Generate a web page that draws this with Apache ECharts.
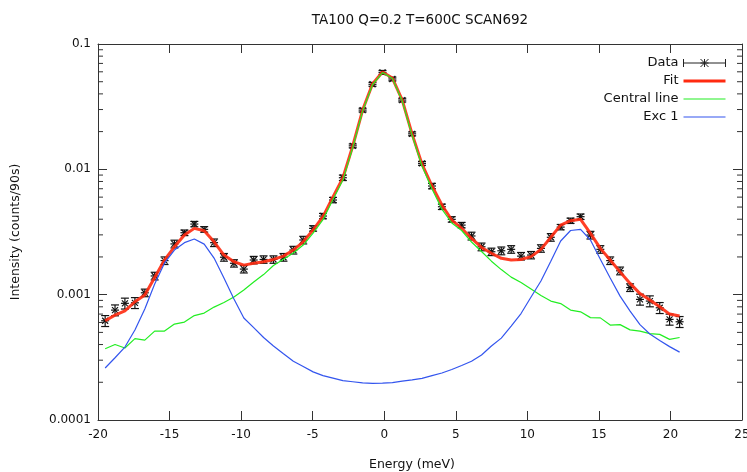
<!DOCTYPE html>
<html><head><meta charset="utf-8">
<script src="https://cdn.jsdelivr.net/npm/echarts@6/dist/echarts.min.js"></script>
<style>html,body{margin:0;padding:0;background:#fff}#c{width:747px;height:472px}</style>
</head><body><div id="c"></div>
<script>
// ---- data ----
const energy = [-19.50, -18.81, -18.12, -17.42, -16.73, -16.04, -15.35, -14.66, -13.96, -13.27,
  -12.58, -11.89, -11.20, -10.50, -9.81, -9.12, -8.43, -7.74, -7.04, -6.35,
  -5.66, -4.97, -4.28, -3.58, -2.89, -2.20, -1.51, -0.82, -0.12, 0.57,
  1.26, 1.95, 2.64, 3.34, 4.03, 4.72, 5.41, 6.10, 6.80, 7.49,
  8.18, 8.87, 9.56, 10.26, 10.95, 11.64, 12.33, 13.02, 13.72, 14.41,
  15.10, 15.79, 16.48, 17.18, 17.87, 18.56, 19.25, 19.94, 20.64];
const intensity = [6.19e-4, 7.53e-4, 8.53e-4, 8.61e-4, 1.035e-3, 1.41e-3, 1.87e-3, 2.54e-3, 3.12e-3, 3.66e-3,
  3.32e-3, 2.60e-3, 1.99e-3, 1.78e-3, 1.60e-3, 1.89e-3, 1.91e-3, 1.91e-3, 1.99e-3, 2.27e-3,
  2.73e-3, 3.38e-3, 4.24e-3, 5.69e-3, 8.57e-3, 0.0154, 0.0297, 0.0477, 0.0594, 0.0526,
  0.0357, 0.0192, 0.01116, 7.36e-3, 5.03e-3, 3.99e-3, 3.59e-3, 2.94e-3, 2.41e-3, 2.20e-3,
  2.24e-3, 2.30e-3, 2.03e-3, 2.07e-3, 2.34e-3, 2.87e-3, 3.46e-3, 3.89e-3, 4.19e-3, 2.99e-3,
  2.30e-3, 1.87e-3, 1.55e-3, 1.14e-3, 9.17e-4, 8.89e-4, 7.86e-4, 6.35e-4, 6.08e-4];
const errors = [6.2e-5, 7.5e-5, 8.5e-5, 8.6e-5, 7.2e-5, 9.9e-5, 1.3e-4, 1.8e-4, 1.6e-4, 1.8e-4,
  1.7e-4, 1.8e-4, 1.4e-4, 1.2e-4, 1.1e-4, 1.3e-4, 1.3e-4, 1.3e-4, 1.4e-4, 1.6e-4,
  1.9e-4, 1.7e-4, 2.1e-4, 2.8e-4, 4.3e-4, 5.4e-4, 1.0e-3, 1.7e-3, 2.1e-3, 1.8e-3,
  1.2e-3, 6.7e-4, 3.9e-4, 3.7e-4, 2.5e-4, 2.0e-4, 1.8e-4, 2.1e-4, 1.7e-4, 1.5e-4,
  1.6e-4, 1.6e-4, 1.4e-4, 1.4e-4, 1.6e-4, 2.0e-4, 1.7e-4, 1.9e-4, 2.1e-4, 2.1e-4,
  1.6e-4, 1.3e-4, 1.1e-4, 8.0e-5, 9.2e-5, 8.9e-5, 7.9e-5, 6.4e-5, 6.1e-5];
const fit = [6.19e-4, 6.87e-4, 7.44e-4, 8.78e-4, 9.93e-4, 1.37e-3, 1.89e-3, 2.41e-3, 2.99e-3, 3.38e-3,
  3.24e-3, 2.64e-3, 2.07e-3, 1.83e-3, 1.72e-3, 1.78e-3, 1.83e-3, 1.91e-3, 2.03e-3, 2.27e-3,
  2.64e-3, 3.28e-3, 4.19e-3, 6.01e-3, 8.52e-3, 0.01535, 0.0297, 0.048, 0.0598, 0.0535,
  0.0357, 0.0191, 0.0110, 7.36e-3, 5.19e-3, 3.94e-3, 3.38e-3, 2.81e-3, 2.38e-3, 2.14e-3,
  1.95e-3, 1.89e-3, 1.91e-3, 2.01e-3, 2.30e-3, 2.87e-3, 3.59e-3, 3.89e-3, 3.99e-3, 3.08e-3,
  2.34e-3, 1.89e-3, 1.52e-3, 1.23e-3, 1.02e-3, 9.06e-4, 8.01e-4, 7.00e-4, 6.75e-4];
const centralLine = [3.70e-4, 4.00e-4, 3.75e-4, 4.46e-4, 4.34e-4, 5.12e-4, 5.12e-4, 5.83e-4, 6.04e-4, 6.81e-4,
  7.13e-4, 7.96e-4, 8.65e-4, 9.57e-4, 1.088e-3, 1.26e-3, 1.446e-3, 1.71e-3, 1.92e-3, 2.15e-3,
  2.49e-3, 3.10e-3, 3.97e-3, 5.74e-3, 8.21e-3, 0.01493, 0.0292, 0.0473, 0.0592, 0.0530,
  0.0351, 0.0186, 0.01062, 6.96e-3, 4.82e-3, 3.73e-3, 3.25e-3, 2.63e-3, 2.21e-3, 1.85e-3,
  1.585e-3, 1.38e-3, 1.249e-3, 1.108e-3, 9.83e-4, 8.89e-4, 8.49e-4, 7.54e-4, 7.30e-4, 6.56e-4,
  6.53e-4, 5.72e-4, 5.77e-4, 5.24e-4, 5.12e-4, 4.89e-4, 4.82e-4, 4.40e-4, 4.55e-4];
const exc1 = [2.60e-4, 3.14e-4, 3.82e-4, 5.22e-4, 7.68e-4, 1.215e-3, 1.79e-3, 2.27e-3, 2.60e-3, 2.78e-3,
  2.53e-3, 1.96e-3, 1.357e-3, 9.22e-4, 6.51e-4, 5.46e-4, 4.55e-4, 3.90e-4, 3.38e-4, 2.94e-4,
  2.67e-4, 2.42e-4, 2.26e-4, 2.16e-4, 2.06e-4, 2.02e-4, 1.98e-4, 1.96e-4, 1.97e-4, 1.99e-4,
  2.04e-4, 2.09e-4, 2.15e-4, 2.26e-4, 2.37e-4, 2.53e-4, 2.72e-4, 2.94e-4, 3.30e-4, 3.89e-4,
  4.50e-4, 5.62e-4, 7.07e-4, 9.57e-4, 1.284e-3, 1.85e-3, 2.68e-3, 3.25e-3, 3.32e-3, 2.73e-3,
  1.92e-3, 1.357e-3, 9.74e-4, 7.40e-4, 5.77e-4, 4.85e-4, 4.30e-4, 3.85e-4, 3.48e-4];
const xTicks = [-20, -15, -10, -5, 0, 5, 10, 15, 20, 25];
const yDecades = [0.0001, 0.001, 0.01, 0.1];
const seriesNames = ['Data', 'Fit', 'Central line', 'Exc 1'];
const titleText = 'TA100 Q=0.2 T=600C SCAN692';

// ---- rendering ----
const FONT = 'DejaVu Sans';
const AX = '#333';
const COLORS = {fit: '#ff2a10', central: '#22ee22', exc: '#3355ee'};
const minorVals = [];
for (let d = 0; d < yDecades.length - 1; d++) for (let m = 2; m <= 9; m++) minorVals.push(m * yDecades[d]);

const chart = echarts.init(document.getElementById('c'), null, {renderer: 'canvas'});
const xCommon = {type: 'value', min: xTicks[0], max: xTicks[xTicks.length - 1], interval: 5,
  splitLine: {show: false}, axisLine: {show: true, onZero: false, lineStyle: {color: AX, width: 1}},
  axisTick: {show: true, inside: true, length: 9, lineStyle: {color: AX}}};
const yCommon = {type: 'log', logBase: 10, min: yDecades[0], max: yDecades[yDecades.length - 1],
  splitLine: {show: false}, axisLine: {show: true, onZero: false, lineStyle: {color: AX, width: 1}},
  axisTick: {show: true, inside: true, length: 9, lineStyle: {color: AX}}, minorTick: {show: false}};

function seg(x1, y1, x2, y2, st) { return {type: 'line', shape: {x1, y1, x2, y2}, style: st}; }

const option = {
  animation: false,
  backgroundColor: '#fff',
  title: {text: titleText, left: 415, top: 8, textAlign: 'center',
    textStyle: {fontFamily: FONT, fontSize: 13.5, fontWeight: 'normal', color: '#111'}},
  grid: {left: 98, right: 5, top: 44, bottom: 52, outerBoundsMode: 'none', containLabel: false},
  legend: {orient: 'vertical', right: 16, top: 51, align: 'right', itemWidth: 42, itemHeight: 10, itemGap: 4,
    symbolKeepAspect: true,
    textStyle: {fontFamily: FONT, fontSize: 13, color: '#111', lineHeight: 14},
    data: [
      {name: seriesNames[0], icon: 'path://M0,1L0,9M0,5L42,5M42,1L42,9M17,1L25,9M25,1L17,9M21,1L21,9M17,5L25,5',
        itemStyle: {color: 'rgba(0,0,0,0)', borderColor: '#222', borderWidth: 1}},
      {name: seriesNames[1], icon: 'path://M0,0L42,0L42,3L0,3Z', itemStyle: {color: COLORS.fit, borderWidth: 0}},
      {name: seriesNames[2], icon: 'path://M0,0L42,0L42,1.2L0,1.2Z', itemStyle: {color: COLORS.central, borderWidth: 0}},
      {name: seriesNames[3], icon: 'path://M0,0L42,0L42,1.2L0,1.2Z', itemStyle: {color: COLORS.exc, borderWidth: 0}}]},
  xAxis: [
    Object.assign({}, xCommon, {position: 'bottom', name: 'Energy (meV)', nameLocation: 'middle', nameGap: 38,
      nameTextStyle: {fontFamily: FONT, fontSize: 12.5, color: '#111', padding: [0, 16, 0, 0]},
      axisLabel: {margin: 9, fontFamily: FONT, fontSize: 12, color: '#111'}}),
    Object.assign({}, xCommon, {position: 'top', axisLabel: {show: false}})
  ],
  yAxis: [
    Object.assign({}, yCommon, {position: 'left', name: 'Intensity (counts/90s)', nameLocation: 'middle', nameGap: 76,
      nameTextStyle: {fontFamily: FONT, fontSize: 12.5, color: '#111'},
      axisLabel: {margin: 7, fontFamily: FONT, fontSize: 12, color: '#111',
        formatter: v => String(parseFloat(Number(v).toPrecision(4)))}}),
    Object.assign({}, yCommon, {position: 'right', axisLabel: {show: false}})
  ],
  series: [
    {type: 'custom', name: seriesNames[0], z: 3, itemStyle: {color: '#111'},
      data: energy.map((e, i) => [e, intensity[i], intensity[i] - errors[i], intensity[i] + errors[i]]),
      encode: {x: 0, y: [1, 2, 3]},
      renderItem(params, api) {
        const x = api.value(0);
        const p = api.coord([x, api.value(1)]);
        const a = api.coord([x, api.value(2)]);
        const b = api.coord([x, api.value(3)]);
        const st = {stroke: '#111', lineWidth: 1.2};
        const c = 4, s = 4, d = 3;
        return {type: 'group', children: [
          seg(p[0], a[1], p[0], b[1], st),
          seg(p[0] - c, a[1], p[0] + c, a[1], st),
          seg(p[0] - c, b[1], p[0] + c, b[1], st),
          seg(p[0] - s, p[1], p[0] + s, p[1], st),
          seg(p[0] - d, p[1] - d, p[0] + d, p[1] + d, st),
          seg(p[0] - d, p[1] + d, p[0] + d, p[1] - d, st)
        ]};
      }},
    {type: 'line', name: seriesNames[1], z: 4, symbol: 'none', data: energy.map((e, i) => [e, fit[i]]),
      lineStyle: {color: COLORS.fit, width: 3, opacity: 0.9}, itemStyle: {color: COLORS.fit}},
    {type: 'line', name: seriesNames[2], z: 5, symbol: 'none', data: energy.map((e, i) => [e, centralLine[i]]),
      lineStyle: {color: COLORS.central, width: 1.2}, itemStyle: {color: COLORS.central}},
    {type: 'line', name: seriesNames[3], z: 6, symbol: 'none', data: energy.map((e, i) => [e, exc1[i]]),
      lineStyle: {color: COLORS.exc, width: 1.2}, itemStyle: {color: COLORS.exc}},
    {type: 'custom', name: 'minorTicks', silent: true, z: 7,
      data: minorVals.map(v => [0, v]), encode: {x: 0, y: 1},
      renderItem(params, api) {
        const cs = params.coordSys;
        const y = api.coord([0, api.value(1)])[1];
        const st = {stroke: AX, lineWidth: 1};
        return {type: 'group', children: [
          seg(cs.x, y, cs.x + 5, y, st),
          seg(cs.x + cs.width, y, cs.x + cs.width - 5, y, st)
        ]};
      }}
  ]
};
chart.setOption(option);
</script></body></html>
